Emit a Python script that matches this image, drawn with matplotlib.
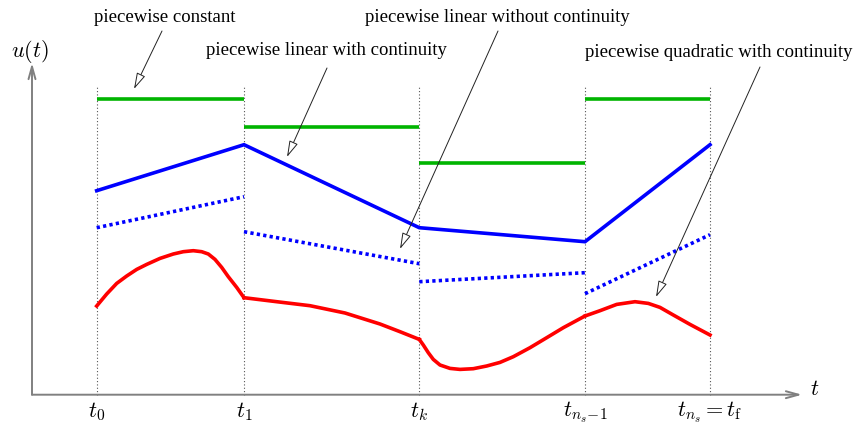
import matplotlib.pyplot as plt

plt.rcParams['mathtext.fontset'] = 'cm'

# grid nodes t_0, t_1, t_k, t_{ns-1}, t_ns
t_nodes = [0.647, 2.12, 3.873, 5.53, 6.78]
node_labels = [r'$t_0$', r'$t_1$', r'$t_k$', r'$t_{n_s\!-\!1}$', r'$t_{n_s} = t_\mathrm{f}$']

# piecewise constant (one value per interval)
u_const = [2.96, 2.68, 2.32, 2.96]

# piecewise linear with continuity (values at nodes)
u_lin_cont = [2.04, 2.50, 1.67, 1.53, 2.50]

# piecewise linear without continuity (start / end value per interval)
u_lin_start = [1.67, 1.63, 1.13, 1.01]
u_lin_end = [1.98, 1.31, 1.22, 1.60]

# piecewise quadratic with continuity
quad_t = [
    [0.647, 0.747, 0.847, 0.947, 1.047, 1.147, 1.28, 1.413, 1.513, 1.613, 1.697, 1.763, 1.83,
     1.897, 1.963, 2.047, 2.12],
    [2.12, 2.447, 2.78, 3.13, 3.48, 3.68, 3.873],
    [3.873, 3.913, 3.963, 4.013, 4.08, 4.18, 4.28, 4.413, 4.547, 4.68, 4.813, 4.98, 5.147,
     5.313, 5.53],
    [5.53, 5.68, 5.847, 6.03, 6.163, 6.28, 6.413, 6.58, 6.78],
]
quad_u = [
    [0.887, 1.007, 1.113, 1.187, 1.253, 1.303, 1.363, 1.407, 1.43, 1.44, 1.43, 1.407, 1.353,
     1.273, 1.18, 1.073, 0.97],
    [0.97, 0.93, 0.89, 0.817, 0.707, 0.63, 0.553],
    [0.553, 0.497, 0.42, 0.353, 0.297, 0.263, 0.253, 0.26, 0.287, 0.323, 0.38, 0.47, 0.57,
     0.67, 0.787],
    [0.787, 0.84, 0.903, 0.93, 0.913, 0.873, 0.797, 0.703, 0.597],
]

# callouts: text, text position, arrow start, arrow tip
callouts = [
    ('piecewise constant', (1.33, 3.777), (1.30, 3.637), (1.02, 3.057)),
    ('piecewise linear with continuity', (2.94, 3.447), (2.95, 3.267), (2.55, 2.377)),
    ('piecewise linear without continuity', (4.65, 3.777), (4.66, 3.637), (3.68, 1.457)),
    ('piecewise quadratic with continuity', (6.87, 3.427), (7.28, 3.277), (6.24, 0.977)),
]

fig = plt.figure(figsize=(8.62, 4.23), dpi=100)
ax = fig.add_axes([0, 0, 1, 1])
ax.set_xlim(-0.32, 8.30)
ax.set_ylim(-0.283, 3.947)
ax.axis('off')

green = '#00b400'
blue = '#0000ff'
red = '#ff0000'

# vertical dotted grid lines
for t in t_nodes:
    ax.plot([t, t], [0, 3.077], ls=(0, (1, 2)), color='#555555', lw=0.8)

for i in range(4):
    ax.plot([t_nodes[i], t_nodes[i + 1]], [u_const[i], u_const[i]], color=green, lw=2.6,
            solid_capstyle='butt')
    ax.plot([t_nodes[i], t_nodes[i + 1]], [u_lin_start[i], u_lin_end[i]], color=blue, lw=2.6,
            ls=(0, (0.9, 0.9)))
    ax.plot(quad_t[i], quad_u[i], color=red, lw=2.6, solid_joinstyle='round')

ax.plot(t_nodes, u_lin_cont, color=blue, lw=2.6, solid_joinstyle='miter')

# axes with arrows
axcol = '#808080'
ax.annotate('', xy=(7.70, 0), xytext=(0, 0),
            arrowprops=dict(arrowstyle='->,head_length=0.9,head_width=0.25', color=axcol, lw=1.4,
                            shrinkA=0, shrinkB=0))
ax.annotate('', xy=(0, 3.317), xytext=(0, 0),
            arrowprops=dict(arrowstyle='->,head_length=0.9,head_width=0.25', color=axcol, lw=1.4,
                            shrinkA=0, shrinkB=0))

ax.text(-0.02, 3.437, r'$u(t)$', fontsize=16, ha='center', va='center')
ax.text(7.83, 0.057, r'$t$', fontsize=16, ha='center', va='center')

for t, lab in zip(t_nodes, node_labels):
    ax.text(t, -0.173, lab, fontsize=16, ha='center', va='center')

for txt, tpos, start, tip in callouts:
    ax.text(tpos[0], tpos[1], txt, fontsize=13.5, family='Liberation Serif', ha='center',
            va='center')
    ax.annotate('', xy=tip, xytext=start,
                arrowprops=dict(arrowstyle='-|>,head_length=1.0,head_width=0.28', fc='white',
                                ec='#222222', lw=0.7, shrinkA=0, shrinkB=0))

fig.savefig('out.png', dpi=100)
